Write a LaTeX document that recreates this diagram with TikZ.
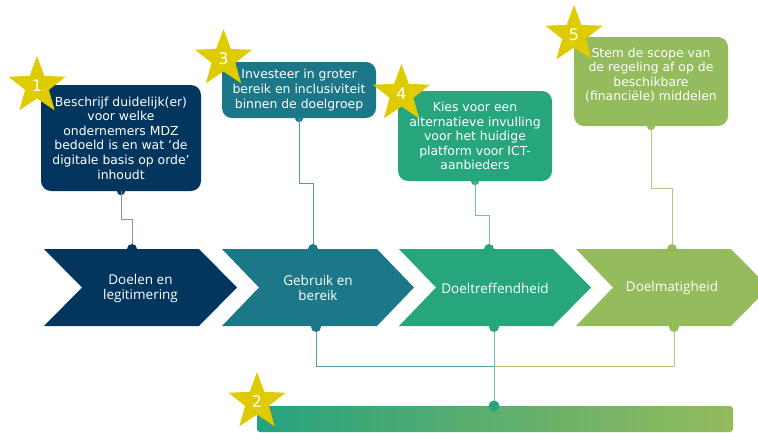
\documentclass[tikz,border=0pt]{standalone}
\usepackage{fontspec}
\setmainfont{DejaVu Sans}
\newfontfamily\chevfont{Open Sans}
\usetikzlibrary{shapes.geometric}
\definecolor{cnavy}{HTML}{02365F}
\definecolor{cteal}{HTML}{1C7788}
\definecolor{cmint}{HTML}{27A67E}
\definecolor{cgreen}{HTML}{94BB5C}
\definecolor{cstar}{HTML}{DECB00}
\definecolor{lnavy}{HTML}{7B96B2}
\definecolor{lteal}{HTML}{4E9BAA}
\definecolor{lmint}{HTML}{6CC6A6}
\definecolor{lgreen}{HTML}{ABCF82}
\begin{document}
\begin{tikzpicture}[x=1pt,y=-1pt,
  callout/.style={rounded corners=10pt, inner sep=0pt, align=center, text=white,
    font=\fontsize{12.4}{14.6}\selectfont},
  starnode/.style={star, star points=5, star point ratio=2.4, fill=cstar, inner sep=0pt,
    minimum size=60pt, text=white, font=\fontsize{16}{16}\selectfont},
  chevlabel/.style={align=center, text=white, font=\chevfont\fontsize{13.5}{15}\selectfont},
  dot/.style={circle, inner sep=0pt, minimum size=#1},
  link/.style={line width=1pt}
]
\path[use as bounding box, clip] (0,0) rectangle (758,432);

% callout boxes
\node[callout, fill=cnavy, minimum width=160pt, minimum height=106pt] (box1) at (121,138)
  {Beschrijf duidelijk(er)\\voor welke\\ondernemers MDZ\\bedoeld is en wat ‘de\\digitale basis op orde’\\inhoudt};
\node[callout, fill=cteal, minimum width=154pt, minimum height=56pt] (box3) at (299,90)
  {Investeer in groter\\bereik en inclusiviteit\\binnen de doelgroep};
\node[callout, fill=cmint, minimum width=154pt, minimum height=90pt] (box4) at (475,136)
  {Kies voor een\\alternatieve invulling\\voor het huidige\\platform voor ICT-\\aanbieders};
\node[callout, fill=cgreen, minimum width=154pt, minimum height=89pt] (box5) at (651,81.5)
  {Stem de scope van\\de regeling af op de\\beschikbare\\(financiële) middelen\\\mbox{}};

% chevron label nodes (positions)
\node[chevlabel] (ch1) at (140.5,288) {};
\node[chevlabel] (ch2) at (318,288) {};
\node[chevlabel] (ch3) at (495,288) {};
\node[chevlabel] (ch4) at (672,288) {};

% dots (positions)
\node[dot=8pt, fill=cnavy] (b1dot) at (box1.south) {};
\node[dot=8pt, fill=cteal] (b3dot) at (box3.south) {};
\node[dot=8pt, fill=cmint] (b4dot) at (box4.south) {};
\node[dot=8pt, fill=cgreen] (b5dot) at (box5.south) {};
\coordinate (jn) at (494,366);

% connectors
\draw[link, lnavy] (b1dot.center) -- ++(0,28) -| (132,249) coordinate (t1);
\draw[link, lteal] (b3dot.center) -- ++(0,65) -| (313,249) coordinate (t2);
\draw[link, lmint] (b4dot.center) -- ++(0,34) -| (489,249) coordinate (t3);
\draw[link, lgreen] (b5dot.center) -- ++(0,62) -| (672,249) coordinate (t4);
\coordinate (u2) at (316,327);
\coordinate (u3) at (494,327);
\coordinate (u4) at (674,327);
\coordinate (bd) at (494,406);
\draw[link, lteal] (u2) |- (jn);
\draw[link, lgreen] (u4) |- (jn);
\draw[link, lmint] (u3) -- (bd);

% chevrons
\fill[cnavy] (44,249) -- (199,249) -- (237,287.5) -- (199,326) -- (44,326) -- (82,287.5) -- cycle;
\fill[cteal] (222,249) -- (377,249) -- (414,287.5) -- (377,326) -- (222,326) -- (259,287.5) -- cycle;
\fill[cmint] (399,249) -- (553,249) -- (591,287.5) -- (553,326) -- (399,326) -- (436,287.5) -- cycle;
\fill[cgreen] (576,249) -- (731,249) -- (769,287.5) -- (731,326) -- (576,326) -- (613,287.5) -- cycle;
\node[chevlabel] at (ch1) {Doelen en\\legitimering};
\node[chevlabel] at (ch2) {Gebruik en\\bereik};
\node[chevlabel] at (ch3) {Doeltreffendheid};
\node[chevlabel] at (ch4) {Doelmatigheid};

% chevron dots
\node[dot=10pt, fill=cnavy] at (t1) {};
\node[dot=10pt, fill=cteal] at (t2) {};
\node[dot=10pt, fill=cmint] at (t3) {};
\node[dot=10pt, fill=cgreen] at (t4) {};
\node[dot=10pt, fill=cteal] at (u2) {};
\node[dot=10pt, fill=cmint] at (u3) {};
\node[dot=10pt, fill=cgreen] at (u4) {};

% bar
\shade[rounded corners=3pt, left color=cmint!92!cteal, middle color=cmint, right color=cgreen]
  (257,406) rectangle (733,432);
\node[dot=11pt, fill=cmint] at (bd) {};

% stars
\node[starnode] (s1) at (37,86) {1};
\node[starnode] (s3) at (223.5,59) {3};
\node[starnode] (s4) at (401.5,94) {4};
\node[starnode] (s5) at (574,35) {5};
\node[starnode] (s2) at (257,402) {2};
\end{tikzpicture}
\end{document}
